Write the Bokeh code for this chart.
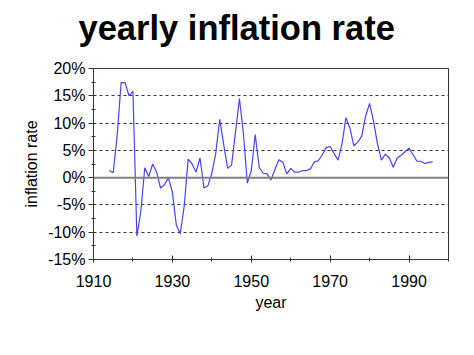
from bokeh.plotting import figure
from bokeh.models import Range1d, FixedTicker, PrintfTickFormatter, Span, Title
from bokeh.embed import file_html
from bokeh.resources import INLINE

years = list(range(1914, 1997))
inflation = [
    1.3, 0.9, 7.7, 17.4, 17.4, 15.0, 15.8, -10.7, -6.2, 1.8,
    0.2, 2.5, 1.0, -1.9, -1.3, 0.0, -2.7, -8.7, -10.3, -5.2,
    3.4, 2.5, 1.0, 3.6, -1.9, -1.5, 0.8, 4.5, 10.7, 6.1,
    1.7, 2.3, 8.3, 14.5, 8.1, -1.0, 1.3, 7.9, 1.9, 0.8,
    0.7, -0.4, 1.5, 3.3, 2.8, 0.7, 1.7, 1.0, 1.0, 1.3,
    1.3, 1.6, 2.9, 3.1, 4.2, 5.5, 5.7, 4.4, 3.2, 6.2,
    11.0, 9.1, 5.8, 6.5, 7.6, 11.3, 13.6, 10.3, 6.2, 3.2,
    4.3, 3.6, 1.9, 3.6, 4.1, 4.8, 5.4, 4.2, 3.0, 3.0,
    2.6, 2.8, 2.9,
]
x_major = [1910, 1930, 1950, 1970, 1990]
x_minor = [1920, 1940, 1960, 1980, 2000]
y_major = [-15, -10, -5, 0, 5, 10, 15, 20]
y_minor = [-12.5, -7.5, -2.5, 2.5, 7.5, 12.5, 17.5]
grid_lines = [-10, -5, 5, 10, 15]
zero_level = 0
title_text = "yearly inflation rate"

FONT = "Liberation Sans"

p = figure(frame_width=355, frame_height=191, output_backend="svg", toolbar_location=None,
           x_range=Range1d(1910, 2000), y_range=Range1d(-15, 20),
           min_border_left=93, min_border_right=26, min_border_top=68, min_border_bottom=96,
           title=title_text)

p.title.text_font = FONT
p.title.text_font_size = "34.5px"
p.title.text_font_style = "bold"
p.title.text_color = "#000000"
p.title.align = "left"
p.title.vertical_align = "top"
p.title.offset = -15
p.title.standoff = 0

# blank spacer panel between the title and the frame
spacer = Title(text=" ", text_font_size="1px", text_color="white", standoff=17)
p.add_layout(spacer, "above")

p.background_fill_color = "white"
p.border_fill_color = "white"
p.outline_line_color = "#333333"
p.outline_line_width = 1

p.xgrid.visible = False
p.ygrid.ticker = FixedTicker(ticks=grid_lines)
p.ygrid.grid_line_color = "#333333"
p.ygrid.grid_line_dash = "3 3"
p.ygrid.grid_line_width = 1

p.add_layout(Span(location=zero_level, dimension="width", line_color="#808080", line_width=2))

p.line(years, inflation, line_color="#4444f2", line_width=1.2)

xa = p.xaxis[0]
xa.ticker = FixedTicker(ticks=x_major, minor_ticks=x_minor)
xa.axis_label = "year"
ya = p.yaxis[0]
ya.ticker = FixedTicker(ticks=y_major, minor_ticks=y_minor)
ya.formatter = PrintfTickFormatter(format="%d%%")
ya.axis_label = "inflation rate"

for ax in (xa, ya):
    ax.axis_line_color = "#333333"
    ax.major_tick_line_color = "#333333"
    ax.minor_tick_line_color = "#333333"
    ax.major_label_text_font = FONT
    ax.major_label_text_font_size = "16px"
    ax.major_label_text_color = "#000000"
    ax.axis_label_text_font = FONT
    ax.axis_label_text_font_size = "16px"
    ax.axis_label_text_font_style = "normal"
    ax.axis_label_text_color = "#000000"

xa.major_tick_in = 4
xa.major_tick_out = 3
xa.minor_tick_in = 2
xa.minor_tick_out = 2
xa.major_label_standoff = 12
xa.axis_label_standoff = 4

ya.major_tick_in = 0
ya.major_tick_out = 5
ya.minor_tick_in = 2
ya.minor_tick_out = 2
ya.major_label_standoff = 3
ya.axis_label_standoff = 5

open("out.html", "w").write(file_html(p, INLINE))
